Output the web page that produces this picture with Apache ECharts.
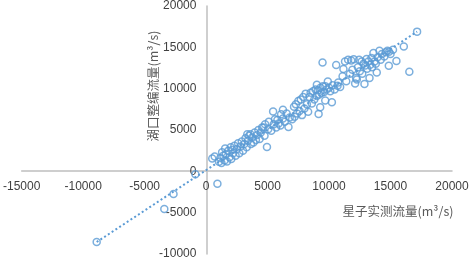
<!DOCTYPE html>
<html>
<head>
<meta charset="utf-8">
<script src="https://cdn.jsdelivr.net/npm/echarts@6/dist/echarts.min.js"></script>
<style>
  html, body { margin: 0; padding: 0; background: #fff; }
  #chart { width: 472px; height: 260px; }
</style>
</head>
<body>
<div id="chart"></div>
<script>
// 星子实测流量 (x) vs 湖口整编流量 (y), m³/s
const xTicks = [-15000, -10000, -5000, 0, 5000, 10000, 15000, 20000];
const yTicks = [-10000, -5000, 0, 5000, 10000, 15000, 20000];

const flowX = [
  -8900, -3400, -2650, -870, 920,
  500, 700, 1550, 1050, 1150, 1250, 1400, 1500, 1600, 1700,
  1800, 1900, 2000, 2050, 2200, 2300, 2400, 2500, 2600, 2700,
  2800, 2900, 3000, 3100, 3200, 3300, 3400, 3500, 3600, 3650,
  3750, 3850, 3950, 4050, 4150, 4250, 4350, 4450, 4550, 4650,
  4750, 4800, 4950, 5050, 5100, 5300, 5450, 5500, 5600, 5700,
  5800, 5900, 6050, 6100, 6250, 6250, 6400, 6550, 6700, 6800,
  1300, 2150, 3350,
  7000, 7150, 7200, 7300, 7400, 7500, 7600, 7700, 7800, 7900, 8000, 8100, 8200, 8300, 8400, 8500,
  8600, 8700, 8800, 8900, 9000, 9010, 9100, 9150, 9200, 9280, 9300, 9400, 9470, 9500, 9600, 9690,
  9700, 9800, 9900, 10000, 10100, 10230, 10300, 10450, 10580, 10690, 10750, 10900,
  11100, 11170, 11300, 11400, 11550, 11700, 11800, 11900, 12000, 12120, 12200, 12260, 12350, 12450,
  12500, 12650, 12700, 12800, 12880, 12950, 13050, 13100, 13200, 13290, 13350, 13450, 13500, 13610,
  13700, 13800, 13880, 13950, 14100, 14200, 14300, 14500, 14600, 14750, 14860, 14880, 15000, 15200,
  15480, 16080, 16530, 17160
];
const flowY = [
  -8550, -4550, -2750, -360, -1500,
  1550, 1800, 2750, 1150, 1600, 1000, 1900, 1300, 2100, 1200,
  2500, 1700, 2900, 1500, 2200, 3100, 1900, 2700, 3400, 2200,
  3000, 3600, 2500, 3300, 4000, 2900, 3700, 4300, 4500, 3300,
  4100, 3500, 4700, 3800, 4400, 5000, 3900, 4700, 5300, 5300,
  4300, 5700, 2950, 5100, 6000, 4900, 7250, 5700, 6300, 5300,
  6200, 5800, 5550, 6900, 7450, 6400, 6000, 7000, 5350, 6500,
  2300, 2600, 4500,
  6300, 7800, 6600, 8100, 7000, 8500, 7300, 8700, 6800, 9000, 7600, 9400, 8100, 7200, 9000, 9500,
  8200, 9700, 8700, 9900, 9100, 10480, 9800, 6950, 9300, 7750, 10100, 9500, 13170, 10300, 9600, 8560,
  10300, 9900, 10880, 10100, 9700, 8350, 10400, 9900, 12860, 10360, 10750, 10200,
  11500, 12370, 13300, 10900, 13500, 11800, 13400, 12300, 13550, 10640, 11300, 11120, 12600, 13500,
  12100, 13300, 11800, 13000, 10570, 12800, 13600, 12400, 13300, 11290, 12900, 13700, 12600, 14300,
  13300, 13000, 11970, 13800, 14580, 13500, 14200, 13900, 14400, 14600, 12770, 14460, 14200, 14700,
  13340, 15100, 12050, 16900
];

// dotted linear trendline, ends
const trendX = [-8900, 17160];
const trendY = [-8550, 16900];

const blue = '#5b9bd5';
const gridLeft = 21, gridRight = 20, gridTop = 5, gridBottom = 6;
const W = 472, H = 260;
const dom = document.getElementById('chart');
const chart = echarts.init(dom);

// axes cross at zero, so shift them (and their labels) into the plot
const plotW = W - gridLeft - gridRight;
const plotH = H - gridTop - gridBottom;
const yAxisShift = plotW * (0 - xTicks[0]) / (xTicks[xTicks.length - 1] - xTicks[0]);
const xAxisShift = plotH * (0 - yTicks[0]) / (yTicks[yTicks.length - 1] - yTicks[0]);

const labelStyle = {
  color: '#404040', fontSize: 12, fontFamily: 'Liberation Sans', margin: 10,
  formatter: v => String(v)
};

const option = {
  animation: false,
  grid: { left: gridLeft, right: gridRight, top: gridTop, bottom: gridBottom },
  xAxis: {
    type: 'value',
    min: xTicks[0],
    max: xTicks[xTicks.length - 1],
    interval: 5000,
    position: 'bottom',
    offset: -xAxisShift,
    axisLine: { onZero: false, lineStyle: { color: '#bfbfbf', width: 1.5 } },
    axisTick: { show: false },
    splitLine: { show: false },
    axisLabel: labelStyle
  },
  yAxis: {
    type: 'value',
    min: yTicks[0],
    max: yTicks[yTicks.length - 1],
    interval: 5000,
    position: 'left',
    offset: -yAxisShift,
    axisLine: { onZero: false, lineStyle: { color: '#bfbfbf', width: 1.5 } },
    axisTick: { show: false },
    splitLine: { show: false },
    axisLabel: labelStyle
  },
  series: [
    {
      type: 'scatter',
      data: flowX.map((x, i) => [x, flowY[i]]),
      symbol: 'circle',
      symbolSize: 7,
      itemStyle: { color: 'rgba(0,0,0,0)', borderColor: blue, borderWidth: 1.5 }
    },
    {
      type: 'line',
      data: trendX.map((x, i) => [x, trendY[i]]),
      symbol: 'none',
      lineStyle: { color: blue, width: 2, type: [2, 2.5] }
    }
  ],
  graphic: [
    {
      type: 'text',
      x: 398, y: 211,
      style: {
        text: '星子实测流量(m³/s)',
        fill: '#595959',
        font: '12.5px "Noto Sans CJK SC"',
        align: 'center',
        verticalAlign: 'middle'
      }
    },
    {
      type: 'text',
      x: 153, y: 86,
      rotation: Math.PI / 2,
      style: {
        text: '湖口整编流量(m³/s)',
        fill: '#595959',
        font: '12.5px "Noto Sans CJK SC"',
        align: 'center',
        verticalAlign: 'middle'
      }
    }
  ]
};

chart.setOption(option);
</script>
</body>
</html>
